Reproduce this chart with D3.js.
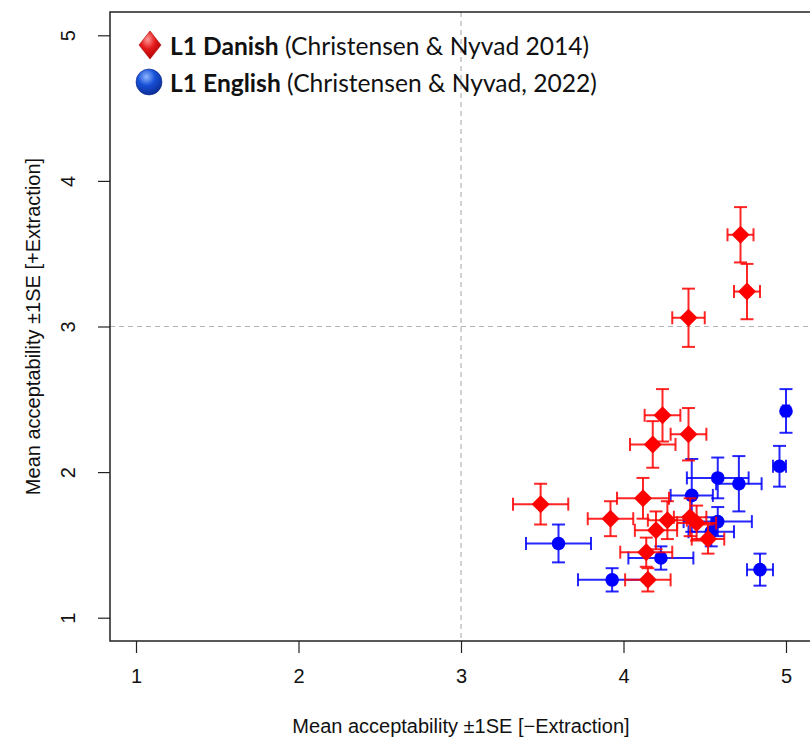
<!DOCTYPE html>
<html>
<head>
<meta charset="utf-8">
<script src="https://cdn.jsdelivr.net/npm/d3@7"></script>
<style>
  html, body { margin: 0; padding: 0; background: #fff; }
  svg { display: block; }
</style>
</head>
<body>
<script>
// Mean acceptability with and without extraction, by condition (±1 SE)
const danishX   = [4.72, 4.76, 4.40, 4.24, 4.40, 4.18, 3.49, 4.12, 3.92, 4.27, 4.20, 4.14, 4.15, 4.41, 4.45, 4.52];
const danishY   = [3.63, 3.24, 3.06, 2.39, 2.26, 2.19, 1.78, 1.82, 1.68, 1.67, 1.60, 1.45, 1.26, 1.69, 1.65, 1.54];
const danishSEx = [0.08, 0.08, 0.10, 0.11, 0.11, 0.14, 0.17, 0.16, 0.14, 0.12, 0.13, 0.16, 0.14, 0.10, 0.12, 0.10];
const danishSEy = [0.19, 0.19, 0.20, 0.18, 0.18, 0.16, 0.14, 0.14, 0.12, 0.13, 0.13, 0.10, 0.08, 0.13, 0.12, 0.10];

const englishX   = [5.00, 4.96, 4.58, 4.71, 4.42, 4.58, 4.54, 3.60, 4.23, 3.93, 4.84];
const englishY   = [2.42, 2.04, 1.96, 1.92, 1.84, 1.66, 1.59, 1.51, 1.41, 1.26, 1.33];
const englishSEx = [0.02, 0.04, 0.19, 0.14, 0.13, 0.21, 0.14, 0.20, 0.20, 0.21, 0.08];
const englishSEy = [0.15, 0.14, 0.14, 0.19, 0.25, 0.10, 0.10, 0.13, 0.08, 0.08, 0.11];

const tickValues = [1, 2, 3, 4, 5];
const xTitle = "Mean acceptability \u00b11SE [\u2212Extraction]";
const yTitle = "Mean acceptability \u00b11SE [+Extraction]";

const W = 810, H = 741;
const box = { left: 110, right: 812, top: 12, bottom: 641 };
const axisFont = "'Liberation Sans', Arial, Helvetica, sans-serif";

const svg = d3.select("body").append("svg").attr("width", W).attr("height", H);

const x = d3.scaleLinear().domain([0.84, 5.16]).range([box.left, box.right]);
const y = d3.scaleLinear().domain([0.84, 5.16]).range([box.bottom, box.top]);

const defs = svg.append("defs");
const gR = defs.append("radialGradient").attr("id", "gRed").attr("cx", "40%").attr("cy", "30%").attr("r", "75%");
gR.append("stop").attr("offset", "0%").attr("stop-color", "#ff9a9a");
gR.append("stop").attr("offset", "45%").attr("stop-color", "#e31a1a");
gR.append("stop").attr("offset", "100%").attr("stop-color", "#a80000");
const gB = defs.append("radialGradient").attr("id", "gBlue").attr("cx", "40%").attr("cy", "30%").attr("r", "75%");
gB.append("stop").attr("offset", "0%").attr("stop-color", "#8fb6ff");
gB.append("stop").attr("offset", "45%").attr("stop-color", "#1750d8");
gB.append("stop").attr("offset", "100%").attr("stop-color", "#0a2a8c");

// reference lines at the scale midpoint
svg.append("line")
  .attr("x1", x(3)).attr("x2", x(3)).attr("y1", box.top).attr("y2", box.bottom)
  .attr("stroke", "#b5b5b5").attr("stroke-width", 1.2).attr("stroke-dasharray", "5,4");
svg.append("line")
  .attr("x1", box.left).attr("x2", box.right).attr("y1", y(3)).attr("y2", y(3))
  .attr("stroke", "#b5b5b5").attr("stroke-width", 1.2).attr("stroke-dasharray", "5,4");

// axes
const xAxis = d3.axisBottom(x).tickValues(tickValues).tickSize(12).tickPadding(16).tickFormat(d3.format("d"));
const gx = svg.append("g").attr("transform", `translate(0,${box.bottom})`).call(xAxis);
gx.attr("font-family", axisFont).attr("font-size", 20);
gx.select(".domain").remove();
gx.selectAll(".tick line").attr("stroke", "#222").attr("stroke-width", 1.2);
gx.selectAll(".tick text").attr("fill", "#111");

const yAxis = d3.axisLeft(y).tickValues(tickValues).tickSize(12).tickPadding(0).tickFormat(d3.format("d"));
const gy = svg.append("g").attr("transform", `translate(${box.left},0)`).call(yAxis);
gy.attr("font-family", axisFont).attr("font-size", 20);
gy.select(".domain").remove();
gy.selectAll(".tick line").attr("stroke", "#222").attr("stroke-width", 1.2);
gy.selectAll(".tick text")
  .attr("x", null).attr("dy", null)
  .attr("text-anchor", "middle")
  .attr("transform", "translate(-35,0) rotate(-90)")
  .attr("fill", "#111");

// plot frame
svg.append("rect")
  .attr("x", box.left).attr("y", box.top)
  .attr("width", box.right - box.left).attr("height", box.bottom - box.top)
  .attr("fill", "none").attr("stroke", "#222").attr("stroke-width", 1.5);

// axis titles
svg.append("text").attr("x", x(3)).attr("y", 733).attr("text-anchor", "middle")
  .attr("font-family", axisFont).attr("font-size", 20).attr("fill", "#111")
  .text(xTitle);
svg.append("text").attr("transform", `translate(40,${y(3)}) rotate(-90)`).attr("text-anchor", "middle")
  .attr("font-family", axisFont).attr("font-size", 20).attr("fill", "#111")
  .text(yTitle);

// error bars + points for one group
const cap = 6.5;
function drawGroup(xs, ys, sex, sey, color, cls) {
  const data = xs.map((v, i) => ({ x: v, y: ys[i], ex: sex[i], ey: sey[i] }));
  const g = svg.append("g").attr("class", cls);
  const eb = g.selectAll("g.eb").data(data).join("g").attr("class", "eb")
    .attr("stroke", color).attr("stroke-width", 2).attr("stroke-opacity", 0.85).attr("fill", "none");
  // horizontal SE
  eb.append("line").attr("x1", d => x(d.x - d.ex)).attr("x2", d => x(d.x + d.ex)).attr("y1", d => y(d.y)).attr("y2", d => y(d.y));
  eb.append("line").attr("x1", d => x(d.x - d.ex)).attr("x2", d => x(d.x - d.ex)).attr("y1", d => y(d.y) - cap).attr("y2", d => y(d.y) + cap);
  eb.append("line").attr("x1", d => x(d.x + d.ex)).attr("x2", d => x(d.x + d.ex)).attr("y1", d => y(d.y) - cap).attr("y2", d => y(d.y) + cap);
  // vertical SE
  eb.append("line").attr("x1", d => x(d.x)).attr("x2", d => x(d.x)).attr("y1", d => y(d.y - d.ey)).attr("y2", d => y(d.y + d.ey));
  eb.append("line").attr("x1", d => x(d.x) - cap).attr("x2", d => x(d.x) + cap).attr("y1", d => y(d.y - d.ey)).attr("y2", d => y(d.y - d.ey));
  eb.append("line").attr("x1", d => x(d.x) - cap).attr("x2", d => x(d.x) + cap).attr("y1", d => y(d.y + d.ey)).attr("y2", d => y(d.y + d.ey));
  return { g, data };
}

const eng = drawGroup(englishX, englishY, englishSEx, englishSEy, "#0000ff", "english");
eng.g.selectAll("circle").data(eng.data).join("circle")
  .attr("cx", d => x(d.x)).attr("cy", d => y(d.y)).attr("r", 6.8).attr("fill", "#0000ff");

const dan = drawGroup(danishX, danishY, danishSEx, danishSEy, "#ff0000", "danish");
const dr = 9;
dan.g.selectAll("path.pt").data(dan.data).join("path").attr("class", "pt")
  .attr("d", d => `M${x(d.x)},${y(d.y) - dr}L${x(d.x) + dr},${y(d.y)}L${x(d.x)},${y(d.y) + dr}L${x(d.x) - dr},${y(d.y)}Z`)
  .attr("fill", "#ff0000");

// legend
const leg = svg.append("g").attr("font-family", "Lato, 'Open Sans', sans-serif").attr("font-size", 24.6).attr("fill", "#111");
leg.append("path").attr("d", "M150,31L161,45L150,59L139,45Z").attr("fill", "url(#gRed)").attr("stroke", "#b00000").attr("stroke-width", 0.6);
leg.append("circle").attr("cx", 149).attr("cy", 82).attr("r", 13).attr("fill", "url(#gBlue)").attr("stroke", "#0a2a8c").attr("stroke-width", 0.6);
const t1 = leg.append("text").attr("x", 170).attr("y", 55);
t1.append("tspan").attr("font-weight", "bold").text("L1 Danish");
t1.append("tspan").text(" (Christensen & Nyvad 2014)");
const t2 = leg.append("text").attr("x", 170).attr("y", 92);
t2.append("tspan").attr("font-weight", "bold").text("L1 English");
t2.append("tspan").text(" (Christensen & Nyvad, 2022)");
</script>
</body>
</html>
